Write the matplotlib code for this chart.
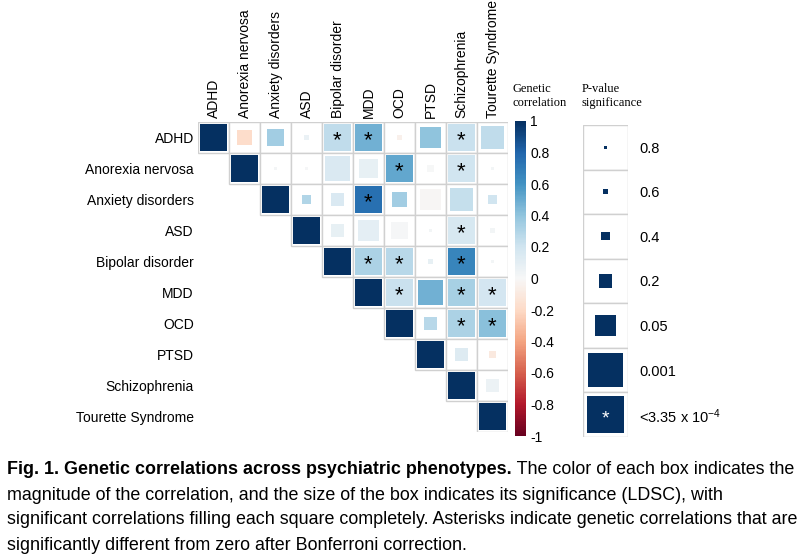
"""
Genetic correlation matrix across psychiatric phenotypes (corrplot style).
Colour = genetic correlation, box size = LDSC p-value, * = Bonferroni significant.
"""
import numpy as np
import matplotlib
matplotlib.use("Agg")
import matplotlib.pyplot as plt
from matplotlib.patches import Rectangle
from matplotlib.colors import Normalize
from matplotlib.cm import ScalarMappable

plt.rcParams["font.family"] = ["Liberation Sans", "DejaVu Sans"]
plt.rcParams["mathtext.fontset"] = "custom"
plt.rcParams["mathtext.rm"] = "Liberation Sans"
plt.rcParams["mathtext.it"] = "Liberation Sans:italic"

# ---- data -------------------------------------------------------------
PHENOTYPES = ["ADHD", "Anorexia nervosa", "Anxiety disorders", "ASD",
              "Bipolar disorder", "MDD", "OCD", "PTSD", "Schizophrenia",
              "Tourette Syndrome"]

N = np.nan
# genetic correlation (upper triangle)
RG = [
    [1.00, -0.18, 0.35, 0.07, 0.25, 0.48, -0.05, 0.40, 0.22, 0.25],
    [N, 1.00, 0.02, 0.01, 0.15, 0.08, 0.52, 0.00, 0.20, 0.03],
    [N, N, 1.00, 0.30, 0.15, 0.75, 0.35, -0.01, 0.24, 0.20],
    [N, N, N, 1.00, 0.08, 0.10, 0.01, 0.03, 0.17, 0.03],
    [N, N, N, N, 1.00, 0.32, 0.28, 0.08, 0.66, 0.03],
    [N, N, N, N, N, 1.00, 0.22, 0.48, 0.33, 0.18],
    [N, N, N, N, N, N, 1.00, 0.28, 0.32, 0.42],
    [N, N, N, N, N, N, N, 1.00, 0.13, -0.10],
    [N, N, N, N, N, N, N, N, 1.00, 0.06],
    [N, N, N, N, N, N, N, N, N, 1.00],
]
# LDSC p-values
PVAL = [
    [0, 0.06, 0.04, 0.47, 1e-5, 1e-6, 0.56, 0.0076, 1e-6, 0.0024],
    [N, 0, 0.7, 0.85, 0.0006, 0.018, 1e-6, 0.3, 1e-5, 0.7],
    [N, N, 0, 0.19, 0.072, 1e-8, 0.07, 0.008, 0.0035, 0.19],
    [N, N, N, 0, 0.09, 0.008, 0.02, 0.85, 1e-5, 0.47],
    [N, N, N, N, 0, 1e-8, 1e-5, 0.47, 1e-10, 0.7],
    [N, N, N, N, N, 0, 1e-5, 0.001, 1e-10, 1e-5],
    [N, N, N, N, N, N, 0, 0.11, 1e-8, 1e-6],
    [N, N, N, N, N, N, N, 0, 0.11, 0.32],
    [N, N, N, N, N, N, N, N, 0, 0.11],
    [N, N, N, N, N, N, N, N, N, 0],
]
BONFERRONI = 3.35e-4

LEGEND_P = [0.8, 0.6, 0.4, 0.2, 0.05, 0.001, BONFERRONI]
LEGEND_LABELS = ["0.8", "0.6", "0.4", "0.2", "0.05", "0.001",
                 r"<3.35 x 10$^{-4}$"]
LEGEND_FRAC = [0.071, 0.117, 0.19, 0.31, 0.50, 0.81, 0.87]

CBAR_TICKS = [1, 0.8, 0.6, 0.4, 0.2, 0, -0.2, -0.4, -0.6, -0.8, -1]

CAPTION_BOLD = "Fig. 1. Genetic correlations across psychiatric phenotypes."
CAPTION_LINES = [
    " The color of each box indicates the",
    "magnitude of the correlation, and the size of the box indicates its significance (LDSC), with",
    "significant correlations filling each square completely. Asterisks indicate genetic correlations that are",
    "significantly different from zero after Bonferroni correction.",
]


def box_frac(p):
    """Map a p-value to box side (fraction of a cell), using the legend scale."""
    if p <= BONFERRONI:
        return LEGEND_FRAC[-1]
    x = -np.log10(p)
    return float(np.interp(x, -np.log10(LEGEND_P), LEGEND_FRAC))


W, H = 805, 555
fig = plt.figure(figsize=(W / 100, H / 100), dpi=100)


def px_axes(x, y, w, h):
    return fig.add_axes([x / W, 1 - (y + h) / H, w / W, h / H])


cmap = plt.get_cmap("RdBu")
norm = Normalize(-1, 1)
rg = np.array(RG, dtype=float)
pv = np.array(PVAL, dtype=float)
n = len(PHENOTYPES)

# ---- matrix -------------------------------------------------------------
ax = px_axes(198, 122, 310, 310)
ax.set_xlim(0, n)
ax.set_ylim(n, 0)
grid_col = "#d0d0d0"
for i in range(n):
    for j in range(i, n):
        ax.add_patch(Rectangle((j, i), 1, 1, facecolor="white",
                               edgecolor=grid_col, lw=1.0, zorder=1))
for i in range(n):
    for j in range(i, n):
        s = box_frac(pv[i, j])
        ax.add_patch(Rectangle((j + 0.5 - s / 2, i + 0.5 - s / 2), s, s,
                               facecolor=cmap(norm(rg[i, j])),
                               edgecolor="none", zorder=2))
        if i != j and pv[i, j] <= BONFERRONI:
            ax.text(j + 0.5, i + 0.6, "*", ha="center", va="center",
                    fontsize=16, color="black", zorder=3)

ax.set_xticks(np.arange(n) + 0.5)
ax.set_xticklabels(PHENOTYPES, rotation=90, fontsize=10)
ax.xaxis.tick_top()
ax.set_yticks(np.arange(n) + 0.5)
ax.set_yticklabels(PHENOTYPES, fontsize=10)
ax.tick_params(length=0, pad=3)
for sp in ax.spines.values():
    sp.set_visible(False)

# ---- colour bar ---------------------------------------------------------
cax = px_axes(515, 121, 11, 315)
cb = fig.colorbar(ScalarMappable(norm=norm, cmap=cmap), cax=cax)
cb.set_ticks(CBAR_TICKS)
cb.set_ticklabels(["%g" % t for t in CBAR_TICKS])
cb.outline.set_visible(False)
cax.tick_params(length=0, pad=3, labelsize=10)
fig.text(512 / W, 1 - 96 / H, "Genetic\ncorrelation", family="Liberation Serif",
         fontsize=9, ha="left", va="center", linespacing=1.3)

# ---- significance legend -------------------------------------------------
lax = px_axes(583, 125, 45, 312)
k = len(LEGEND_P)
lax.set_xlim(0, 1)
lax.set_ylim(k, 0)
navy = cmap(norm(1.0))
for idx, p in enumerate(LEGEND_P):
    lax.add_patch(Rectangle((0, idx), 1, 1, facecolor="white",
                            edgecolor=grid_col, lw=1.0))
    s = box_frac(p) * 0.95
    lax.add_patch(Rectangle((0.5 - s / 2, idx + 0.5 - s / 2), s, s,
                            facecolor=navy, edgecolor="none"))
lax.text(0.5, k - 0.5 + 0.1, "*", ha="center", va="center",
         fontsize=14, color="white")
lax.set_xticks([])
lax.set_yticks(np.arange(k) + 0.5)
lax.set_yticklabels(LEGEND_LABELS, fontsize=10.5)
lax.yaxis.tick_right()
lax.tick_params(length=0, pad=8)
for sp in lax.spines.values():
    sp.set_visible(False)
fig.text(582 / W, 1 - 96 / H, "P-value\nsignificance", family="Liberation Serif",
         fontsize=9, ha="left", va="center", linespacing=1.3)

# ---- caption --------------------------------------------------------------
cap_size = 12.9
y0 = 470
bold = fig.text(7 / W, 1 - y0 / H, CAPTION_BOLD, fontsize=cap_size,
                fontweight="bold", ha="left", va="center")
renderer = fig.canvas.get_renderer()
bb = bold.get_window_extent(renderer=renderer)
fig.text(bb.x1 / W, 1 - y0 / H, CAPTION_LINES[0], fontsize=cap_size,
         ha="left", va="center")
for li, line in enumerate(CAPTION_LINES[1:], start=1):
    fig.text(7 / W, 1 - (y0 + 25 * li) / H, line, fontsize=cap_size,
             ha="left", va="center")

fig.savefig("out.png", dpi=100)
